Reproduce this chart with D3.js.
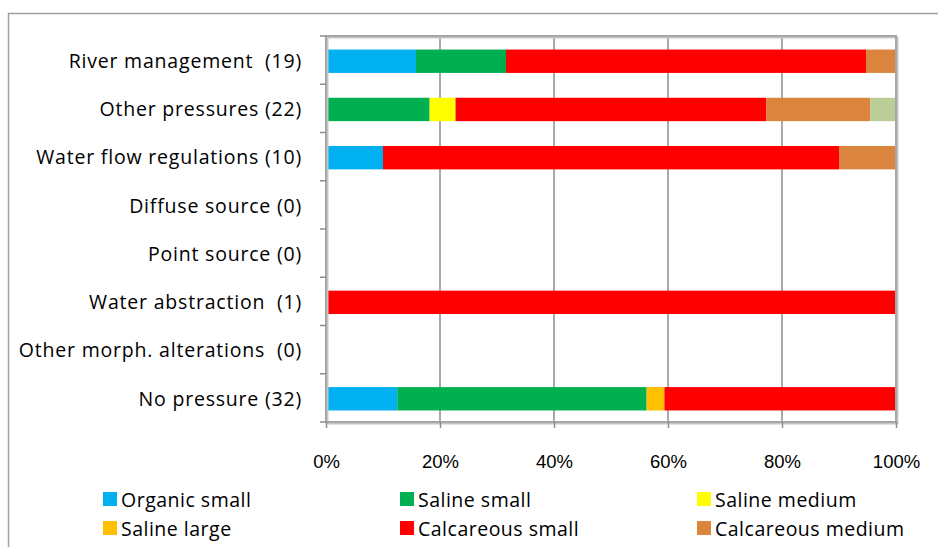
<!DOCTYPE html>
<html><head><meta charset="utf-8">
<script src="https://cdn.jsdelivr.net/npm/d3@7"></script>
<style>body{margin:0;background:#fff;}svg{display:block;font-family:"Open Sans",Carlito,"Liberation Sans",Arial,sans-serif;}text{white-space:pre;}</style>
</head><body><svg id="c" width="938" height="547"></svg>
<script>
const categories = ["River management  (19)","Other pressures (22)","Water flow regulations (10)","Diffuse source (0)","Point source (0)","Water abstraction  (1)","Other morph. alterations  (0)","No pressure (32)"];
const seriesNames = ["Organic small","Saline small","Saline medium","Saline large","Calcareous small","Calcareous medium","Calcareous large"];
const seriesColors = ["#00B0F0","#00B050","#FFFF00","#FFC000","#FF0000","#DA843E","#BBCE97"];
// counts per category, one array per series
const organicSmall     = [3,0,1,0,0,0,0,4];
const salineSmall      = [3,4,0,0,0,0,0,14];
const salineMedium     = [0,1,0,0,0,0,0,0];
const salineLarge      = [0,0,0,0,0,0,0,1];
const calcareousSmall  = [12,12,8,0,0,1,0,13];
const calcareousMedium = [1,4,1,0,0,0,0,0];
const calcareousLarge  = [0,1,0,0,0,0,0,0];
const tickLabels = ["0%","20%","40%","60%","80%","100%"];
// legend entries visible in the reference (the 7th is cut off by the frame)
const legendShown = 6;

const seriesData = [organicSmall,salineSmall,salineMedium,salineLarge,calcareousSmall,calcareousMedium,calcareousLarge];
const rows = categories.map((c,i)=>{const o={cat:c};seriesNames.forEach((s,j)=>o[s]=seriesData[j][i]);return o;});
const stack = d3.stack().keys(seriesNames).offset(d3.stackOffsetExpand)(rows);

const svg = d3.select("#c");
const L=326,R=896,T=36,B=422;
const x = d3.scaleLinear().domain([0,1]).range([L,R]);
const y = d3.scaleBand().domain(categories).range([T+1,B+1]).paddingInner(0.515).paddingOuter(0.26);

// outer chart border
svg.append("rect").attr("x",8.5).attr("y",13.5).attr("width",940).attr("height",560).attr("fill","none").attr("stroke","#A0A0A0").attr("stroke-width",1.5);

// gridlines
svg.append("g").selectAll("line").data([0.2,0.4,0.6,0.8]).join("line")
  .attr("x1",d=>x(d)).attr("x2",d=>x(d)).attr("y1",T).attr("y2",B)
  .attr("stroke","#8C8C8C").attr("stroke-width",1.5);

// bars
svg.append("g").selectAll("g").data(stack).join("g").attr("fill",(d,i)=>seriesColors[i])
  .selectAll("rect").data(d=>d.filter(p=>!isNaN(p[1]) && p[1]-p[0]>0)).join("rect")
  .attr("x",d=>x(d[0])).attr("width",d=>x(d[1])-x(d[0]))
  .attr("y",d=>y(d.data.cat)).attr("height",y.bandwidth());

// plot border with shadow
svg.append("rect").attr("x",L+1.5).attr("y",T+1.5).attr("width",R-L).attr("height",B-T)
  .attr("fill","none").attr("stroke","#C8C8C8").attr("stroke-width",2);
svg.append("rect").attr("x",L).attr("y",T).attr("width",R-L).attr("height",B-T)
  .attr("fill","none").attr("stroke","#A6A6A6").attr("stroke-width",2);

// y axis
const yAxis = svg.append("g").attr("transform",`translate(${L},0)`);
const step = (B-T)/categories.length;
yAxis.selectAll("line").data(d3.range(categories.length+1)).join("line")
  .attr("x1",-6).attr("x2",0).attr("y1",i=>T+i*step).attr("y2",i=>T+i*step)
  .attr("stroke","#8C8C8C").attr("stroke-width",1.5);
yAxis.selectAll("text").data(categories).join("text")
  .attr("x",-24).attr("y",d=>y(d)+y.bandwidth()/2).attr("dy","0.35em")
  .attr("text-anchor","end").attr("font-size",19.5).attr("letter-spacing",0.8).attr("fill","#000").text(d=>d);

// x axis
const xAxis = d3.axisBottom(x).tickValues([0,0.2,0.4,0.6,0.8,1]).tickFormat((d,i)=>tickLabels[i]).tickSize(6).tickPadding(27);
const gx = svg.append("g").attr("transform",`translate(0,${B})`).call(xAxis);
gx.select(".domain").remove();
gx.selectAll("line").attr("stroke","#8C8C8C").attr("stroke-width",1.5);
gx.selectAll("text").attr("font-size",18.5).attr("fill","#000").attr("font-family",null);

// legend
const legX=[103,400,697], legY=[492,521];
const lg = svg.append("g").selectAll("g").data(seriesNames.slice(0,legendShown)).join("g")
  .attr("transform",(d,i)=>`translate(${legX[i%3]},${legY[Math.floor(i/3)]})`);
lg.append("rect").attr("width",14).attr("height",14).attr("fill",(d,i)=>seriesColors[i]);
lg.append("text").attr("x",18).attr("y",8).attr("dy","0.35em").attr("font-size",19.5).attr("letter-spacing",0.5).attr("fill","#000").text(d=>d);
</script></body></html>
